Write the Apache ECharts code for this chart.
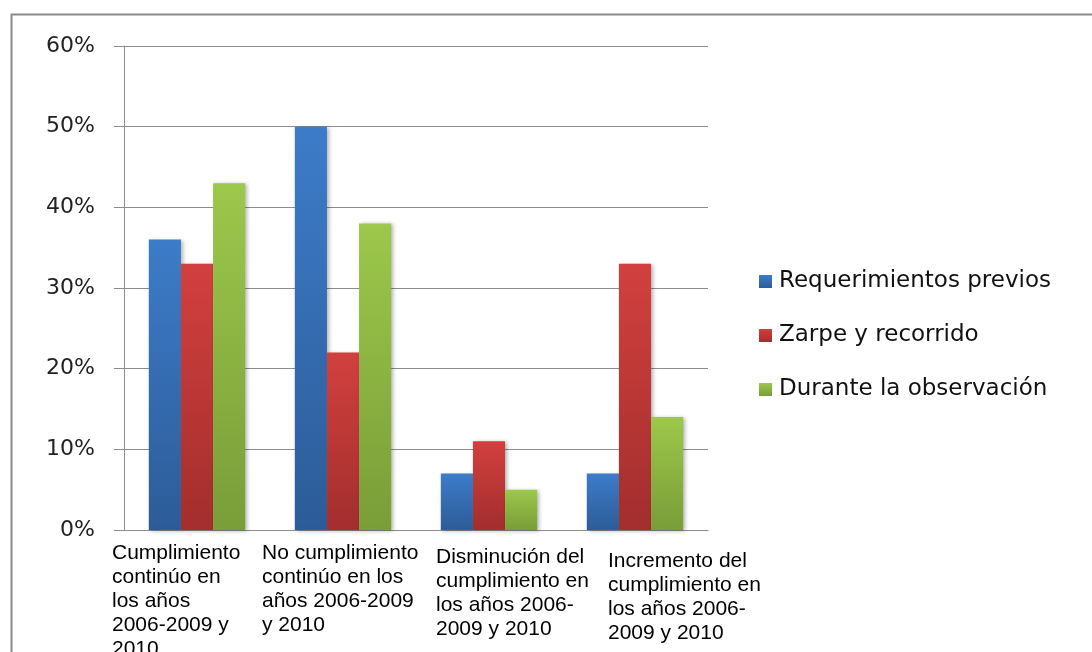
<!DOCTYPE html>
<html>
<head>
<meta charset="utf-8">
<script src="https://cdn.jsdelivr.net/npm/echarts@6/dist/echarts.min.js"></script>
<style>
  html, body { margin: 0; padding: 0; background: #fff; overflow: hidden; }
  #chart { width: 1092px; height: 652px; }
</style>
</head>
<body>
<div id="chart"></div>
<script>
// categories (line breaks as in the original chart)
const categories = [
  'Cumplimiento\ncontinúo en\nlos años\n2006-2009 y\n2010',
  'No cumplimiento\ncontinúo en los\naños 2006-2009\ny 2010',
  'Disminución del\ncumplimiento en\nlos años 2006-\n2009 y 2010',
  'Incremento del\ncumplimiento en\nlos años 2006-\n2009 y 2010'
]
// offset of each label block relative to the category centre (px)
const labelShift = [-85, -81, -53, -27]
const labelDrop = [0, 0, 4, 8]

const seriesNames = ['Requerimientos previos', 'Zarpe y recorrido', 'Durante la observación']
const requerimientos = [36, 50, 7, 7]
const zarpe = [33, 22, 11, 33]
const durante = [43, 38, 5, 14]

const yTicks = [0, 10, 20, 30, 40, 50, 60]

const grads = [
  ['#3d7cc9', '#2c5c98'],
  ['#d2403e', '#a22e2d'],
  ['#9cc84b', '#799d38'],
]

const chart = echarts.init(document.getElementById('chart'), null, { renderer: 'canvas' })
const uiFont = '"DejaVu Sans", sans-serif'
const catFont = '"Liberation Sans", Arial, sans-serif'

const grad = (c) => new echarts.graphic.LinearGradient(0, 0, 0, 1, [
  { offset: 0, color: c[0] }, { offset: 1, color: c[1] }
])

const catLabel = (i) => ({
  align: 'left', padding: [labelDrop[i], 0, 0, labelShift[i]],
  fontFamily: catFont, fontSize: 21, lineHeight: 24, color: '#000'
})

chart.setOption({
  animation: false,
  textStyle: { fontFamily: uiFont, color: '#000' },
  graphic: [{
    type: 'rect', left: 9, top: 12,
    shape: { width: 1200, height: 800 },
    style: { fill: 'none', stroke: '#8a8a8a', lineWidth: 2 }
  }],
  grid: { left: 124, right: 384, top: 46, bottom: 122, outerBoundsMode: 'none' },
  legend: {
    orient: 'vertical', left: 754, top: 265,
    itemWidth: 13, itemHeight: 13, itemGap: 31, icon: 'rect',
    data: seriesNames,
    textStyle: { fontFamily: uiFont, fontSize: 23, color: '#111', padding: [0, 0, 0, 2] }
  },
  xAxis: {
    type: 'category',
    data: categories.map((c, i) => ({ value: c, textStyle: catLabel(i) })),
    axisLine: { lineStyle: { color: '#8c8c8c', width: 1 } },
    axisTick: { show: false },
    axisLabel: { interval: 0, margin: 11 }
  },
  yAxis: {
    type: 'value', min: yTicks[0], max: yTicks[yTicks.length - 1], interval: 10,
    axisLine: { show: true, lineStyle: { color: '#8c8c8c' } },
    axisTick: { show: true, inside: false, length: 10, lineStyle: { color: '#8c8c8c' } },
    splitLine: { lineStyle: { color: '#8c8c8c', width: 1 } },
    axisLabel: { formatter: '{value}%', fontFamily: uiFont, fontSize: 22, color: '#222', margin: 29 }
  },
  series: [requerimientos, zarpe, durante].map((d, i) => ({
    name: seriesNames[i], type: 'bar', data: d,
    barGap: '0%', barCategoryGap: '34%',
    itemStyle: {
      color: grad(grads[i]),
      shadowBlur: 4, shadowColor: 'rgba(0,0,0,0.3)', shadowOffsetX: 2, shadowOffsetY: 1
    }
  }))
})
</script>
</body>
</html>
